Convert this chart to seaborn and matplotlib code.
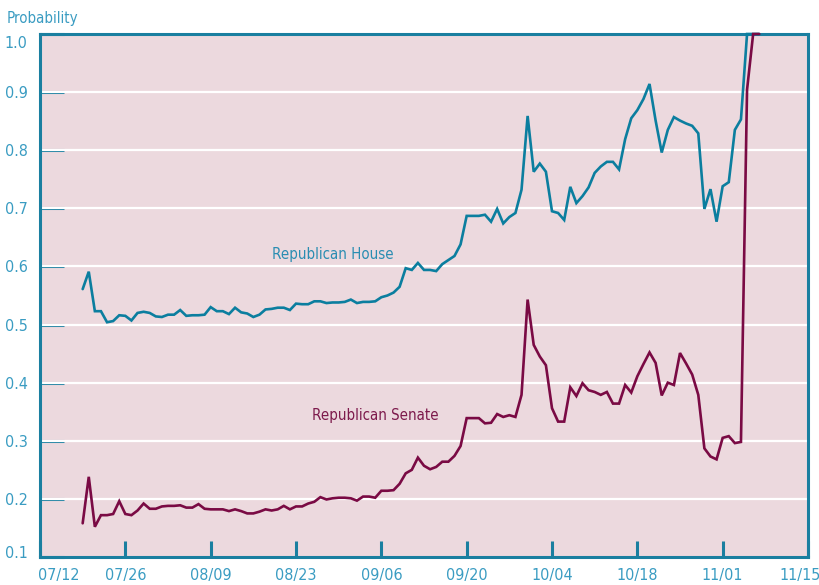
import matplotlib
matplotlib.use("Agg")
import matplotlib.pyplot as plt
import matplotlib.dates as mdates
import matplotlib.transforms as mtransforms
from matplotlib import font_manager
import seaborn as sns
import pandas as pd
import numpy as np

# ---- data (daily, 2000-07-19 .. 2000-11-08) ----
start_date = "2000-07-19"
house = [
    0.561, 0.591, 0.523, 0.523, 0.504, 0.506, 0.516, 0.515, 0.507, 0.520,
    0.522, 0.520, 0.514, 0.513, 0.517, 0.517, 0.525, 0.515, 0.516, 0.516,
    0.517, 0.530, 0.523, 0.523, 0.518, 0.529, 0.521, 0.519, 0.513, 0.517,
    0.526, 0.527, 0.529, 0.529, 0.525, 0.536, 0.535, 0.535, 0.540, 0.540,
    0.537, 0.538, 0.538, 0.539, 0.543, 0.537, 0.539, 0.539, 0.540, 0.547,
    0.550, 0.555, 0.565, 0.597, 0.594, 0.606, 0.594, 0.594, 0.592, 0.604,
    0.611, 0.618, 0.638, 0.687, 0.687, 0.687, 0.689, 0.677, 0.699, 0.674,
    0.685, 0.692, 0.732, 0.859, 0.763, 0.777, 0.763, 0.695, 0.692, 0.680,
    0.737, 0.709, 0.721, 0.736, 0.761, 0.772, 0.780, 0.780, 0.767, 0.819,
    0.855, 0.869, 0.888, 0.914, 0.851, 0.796, 0.835, 0.857, 0.851, 0.846,
    0.842, 0.829, 0.699, 0.733, 0.677, 0.738, 0.745, 0.835, 0.853, 1.000,
    1.000, 1.000,
]
senate = [
    0.158, 0.238, 0.152, 0.172, 0.172, 0.174, 0.196, 0.174, 0.172, 0.180,
    0.192, 0.183, 0.183, 0.187, 0.188, 0.188, 0.189, 0.185, 0.185, 0.191,
    0.183, 0.182, 0.182, 0.182, 0.179, 0.182, 0.179, 0.175, 0.175, 0.178,
    0.182, 0.180, 0.182, 0.188, 0.182, 0.187, 0.187, 0.192, 0.195, 0.203,
    0.199, 0.201, 0.202, 0.202, 0.201, 0.197, 0.204, 0.204, 0.202, 0.214,
    0.214, 0.215, 0.226, 0.244, 0.250, 0.271, 0.257, 0.251, 0.255, 0.264,
    0.264, 0.274, 0.291, 0.339, 0.339, 0.339, 0.330, 0.331, 0.346, 0.341,
    0.344, 0.341, 0.379, 0.543, 0.465, 0.445, 0.430, 0.356, 0.333, 0.333,
    0.392, 0.377, 0.399, 0.387, 0.384, 0.379, 0.384, 0.364, 0.364, 0.396,
    0.383, 0.411, 0.432, 0.452, 0.434, 0.378, 0.400, 0.396, 0.451, 0.433,
    0.414, 0.379, 0.287, 0.273, 0.268, 0.305, 0.308, 0.296, 0.298, 0.904,
    1.000, 1.000,
]
series_names = ["Republican Senate", "Republican House"]
tick_dates = ["2000-07-12", "2000-07-26", "2000-08-09", "2000-08-23", "2000-09-06",
              "2000-09-20", "2000-10-04", "2000-10-18", "2000-11-01", "2000-11-15"]
y_ticks = [0.1, 0.2, 0.3, 0.4, 0.5, 0.6, 0.7, 0.8, 0.9, 1.0]
y_tick_labels = ["0.1", "0.2", "0.3", "0.4", "0.5", "0.6", "0.7", "0.8", "0.9", "1.0"]

dates = pd.date_range(start_date, periods=len(house), freq="D")
df = pd.concat([
    pd.DataFrame({"date": dates, "prob": senate, "series": series_names[0]}),
    pd.DataFrame({"date": dates, "prob": house, "series": series_names[1]}),
])

# ---- style ----
sns.set_theme(style="white")
names = {f.name for f in font_manager.fontManager.ttflist}
if "Liberation Sans Narrow" in names:
    plt.rcParams["font.family"] = ["Liberation Sans Narrow", "DejaVu Sans"]
    FS_T, FS_L = 12.5, 12.0
else:
    plt.rcParams["font.family"] = ["DejaVu Sans"]
    plt.rcParams["font.stretch"] = "condensed"
    FS_T, FS_L = 11.5, 10.8

BG = "#ecd9de"
SPINE = "#1a7fa0"
LABEL = "#3a9cc2"
HOUSE_C = "#0b7e9f"
SENATE_C = "#7a0a44"

fig = plt.figure(figsize=(8.2, 5.85), dpi=100)
ax = fig.add_axes([40 / 820, 28 / 585, 768 / 820, 523 / 585])
ax.set_facecolor(BG)

sns.lineplot(data=df, x="date", y="prob", hue="series",
             palette={series_names[0]: SENATE_C, series_names[1]: HOUSE_C},
             hue_order=[series_names[1], series_names[0]],
             linewidth=1.9, legend=False, ax=ax, zorder=3)
for ln in ax.get_lines():
    ln.set_clip_on(False)
    ln.set_solid_joinstyle("miter")

ax.set_xlim(pd.Timestamp(tick_dates[0]), pd.Timestamp(tick_dates[-1]))
ax.set_ylim(0.1, 1.0)

ax.set_yticks(y_ticks)
ax.set_yticklabels(y_tick_labels)
ax.set_xticks([pd.Timestamp(t) for t in tick_dates])
ax.xaxis.set_major_formatter(mdates.DateFormatter("%m/%d"))

for y in y_ticks[1:-1]:
    ax.axhline(y, color="white", linewidth=1.6, zorder=1)

ax.tick_params(axis="y", direction="in", length=17, width=2.2, color=SPINE,
               labelcolor=LABEL, labelsize=FS_T, pad=9, left=True)
ax.tick_params(axis="x", direction="in", length=11.5, width=2.2, color=SPINE,
               labelcolor=LABEL, labelsize=FS_T, pad=8, bottom=True)

for s in ax.spines.values():
    s.set_color(SPINE)
    s.set_linewidth(2.2)
    s.set_visible(True)

ax.set_xlabel("")
ax.set_ylabel("")
ax.grid(False)

# keep the end labels inside the frame, as in the reference
fig.canvas.draw()
xl = ax.get_xticklabels()
yl = ax.get_yticklabels()
xl[0].set_transform(xl[0].get_transform() + mtransforms.ScaledTranslation(19 / 100, 0, fig.dpi_scale_trans))
xl[-1].set_transform(xl[-1].get_transform() + mtransforms.ScaledTranslation(-8 / 100, 0, fig.dpi_scale_trans))
yl[0].set_transform(yl[0].get_transform() + mtransforms.ScaledTranslation(0, 5 / 100, fig.dpi_scale_trans))
yl[-1].set_transform(yl[-1].get_transform() + mtransforms.ScaledTranslation(0, -8 / 100, fig.dpi_scale_trans))

ax.text(pd.Timestamp("2000-08-29"), 0.620, "Republican House", color="#2a8db2",
        fontsize=FS_L, ha="center", va="center")
ax.text(pd.Timestamp("2000-09-05"), 0.344, "Republican Senate", color="#7d1a4c",
        fontsize=FS_L, ha="center", va="center")

fig.text(7 / 820, 1 - 18 / 585, "Probability", color=LABEL, fontsize=FS_L,
         ha="left", va="center")

fig.savefig("out.png", dpi=100, facecolor="white")
